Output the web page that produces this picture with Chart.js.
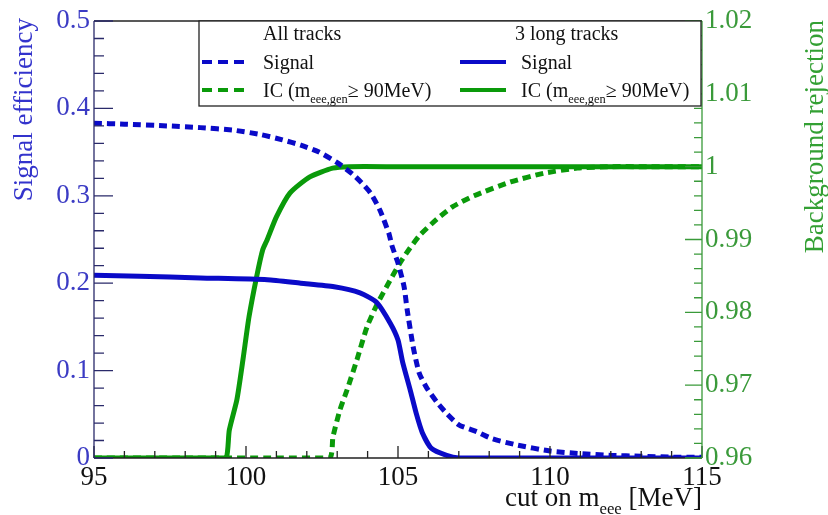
<!DOCTYPE html>
<html>
<head>
<meta charset="utf-8">
<script src="https://cdn.jsdelivr.net/npm/chart.js@4.4.1/dist/chart.umd.min.js"></script>
<style>
  html, body { margin: 0; padding: 0; background: #fff; }
  #wrap { width: 828px; height: 515px; position: relative; }
</style>
</head>
<body>
<div id="wrap"><canvas id="cutChart"></canvas></div>
<script>
// signal efficiency, all tracks (dashed blue, left axis)
const sigAllX = [95, 96, 97.4, 98.5, 99.6, 100.5, 101.2, 101.8, 102.4, 103.0, 103.5, 103.8, 104.1, 104.4, 104.7, 104.8, 105.0, 105.2, 105.3, 105.5, 105.7, 105.95, 106.3, 106.6, 107.0, 107.6, 108.1, 108.9, 110.0, 111.0, 112.0, 113.0, 114.0, 115.0];
const sigAllY = [0.383, 0.382, 0.380, 0.378, 0.375, 0.370, 0.364, 0.358, 0.350, 0.338, 0.325, 0.315, 0.303, 0.284, 0.257, 0.243, 0.223, 0.196, 0.170, 0.127, 0.097, 0.080, 0.063, 0.051, 0.038, 0.030, 0.022, 0.015, 0.008, 0.005, 0.003, 0.002, 0.001, 0.001];

// signal efficiency, 3 long tracks (solid blue, left axis)
const sigLongX = [95, 96.5, 98.5, 100.7, 101.8, 102.9, 103.75, 104.3, 104.75, 105.0, 105.15, 105.4, 105.6, 105.8, 106.1, 106.6, 107.0, 108, 110, 112, 115];
const sigLongY = [0.209, 0.208, 0.206, 0.204, 0.200, 0.196, 0.189, 0.178, 0.154, 0.135, 0.110, 0.078, 0.051, 0.029, 0.011, 0.003, 0.0, 0, 0, 0, 0];

// IC background rejection, all tracks (dashed green, right axis)
const icAllX = [95, 98, 101, 102.75, 102.86, 103.09, 103.32, 103.65, 103.98, 104.3, 104.74, 105.07, 105.39, 105.72, 106.28, 106.8, 107.5, 108.7, 109.8, 110.9, 112, 113, 115];
const icAllY = [0.96, 0.96, 0.96, 0.96, 0.9629, 0.9666, 0.9693, 0.9735, 0.9780, 0.9810, 0.9844, 0.9868, 0.9888, 0.9906, 0.9928, 0.9945, 0.9960, 0.9979, 0.9991, 0.9998, 1.0, 1.0, 1.0];

// IC background rejection, 3 long tracks (solid green, right axis)
const icLongX = [95, 97, 99, 99.35, 99.45, 99.7, 99.9, 100.1, 100.35, 100.55, 100.7, 101.0, 101.45, 102.1, 102.85, 103.4, 105, 108, 111, 115];
const icLongY = [0.96, 0.96, 0.96, 0.96, 0.9638, 0.968, 0.9735, 0.9794, 0.9849, 0.9886, 0.9900, 0.9931, 0.9964, 0.9986, 0.9998, 1.0, 1.0, 1.0, 1.0, 1.0];

const xTicks = [95, 100, 105, 110, 115];
const effTicks = [0, 0.1, 0.2, 0.3, 0.4, 0.5];
const rejTicks = [0.96, 0.97, 0.98, 0.99, 1.0, 1.01, 1.02];

const BLUE = '#0a0ac8';
const GREEN = '#0a9a0a';
const SERIF = '"Liberation Serif", "DejaVu Serif", serif';

function pts(xs, ys) {
  return xs.map((x, i) => ({ x: x, y: ys[i] }));
}

function fmt(v) {
  return String(parseFloat(v.toFixed(2)));
}

// draws text pieces, some as subscripts; returns total width
function drawRich(ctx, parts, x, y, size, measureOnly) {
  let w = 0;
  parts.forEach(p => {
    const s = p.sub ? size * 0.62 : size;
    ctx.font = s + 'px ' + SERIF;
    if (!measureOnly) ctx.fillText(p.t, x + w, y + (p.sub ? size * 0.3 : 0));
    w += ctx.measureText(p.t).width;
  });
  return w;
}

const frameAndTicks = {
  id: 'frameAndTicks',
  afterDatasetsDraw(chart) {
    const ctx = chart.ctx;
    const a = chart.chartArea;
    const xs = chart.scales.x, ys = chart.scales.y, y2 = chart.scales.y2;
    ctx.save();
    ctx.lineWidth = 1.3;

    // top frame
    ctx.strokeStyle = '#222';
    ctx.beginPath(); ctx.moveTo(a.left, a.top); ctx.lineTo(a.right, a.top); ctx.stroke();

    // bottom axis and ticks
    ctx.beginPath(); ctx.moveTo(a.left, a.bottom); ctx.lineTo(a.right, a.bottom);
    for (let v = 95; v <= 115; v += 1) {
      const px = xs.getPixelForValue(v);
      const len = (v % 5 === 0) ? 12 : 7;
      ctx.moveTo(px, a.bottom); ctx.lineTo(px, a.bottom - len);
    }
    ctx.stroke();

    // left axis and ticks
    ctx.strokeStyle = '#2a2a6a';
    ctx.beginPath(); ctx.moveTo(a.left, a.top); ctx.lineTo(a.left, a.bottom);
    for (let i = 0; i <= 25; i++) {
      const py = ys.getPixelForValue(i * 0.02);
      const len = (i % 5 === 0) ? 19 : 10;
      ctx.moveTo(a.left, py); ctx.lineTo(a.left + len, py);
    }
    ctx.stroke();

    // right axis and ticks
    ctx.strokeStyle = '#3a9a3a';
    ctx.beginPath(); ctx.moveTo(a.right, a.top); ctx.lineTo(a.right, a.bottom);
    for (let i = 0; i <= 30; i++) {
      const py = y2.getPixelForValue(0.96 + i * 0.002);
      const len = (i % 5 === 0) ? 17 : 8;
      ctx.moveTo(a.right, py); ctx.lineTo(a.right - len, py);
    }
    ctx.stroke();
    ctx.restore();
  },
  afterDraw(chart) {
    const ctx = chart.ctx;
    ctx.save();

    // axis titles
    ctx.textBaseline = 'alphabetic';
    ctx.font = '27px ' + SERIF;
    ctx.fillStyle = '#3333cc';
    ctx.save();
    ctx.translate(32, 18);
    ctx.rotate(-Math.PI / 2);
    ctx.textAlign = 'right';
    ctx.fillText('Signal efficiency', 0, 0);
    ctx.restore();

    ctx.fillStyle = '#33a033';
    ctx.save();
    ctx.translate(823, 20);
    ctx.rotate(-Math.PI / 2);
    ctx.textAlign = 'right';
    ctx.fillText('Background rejection', 0, 0);
    ctx.restore();

    ctx.textAlign = 'left';
    ctx.fillStyle = '#111';
    const xTitle = [{ t: 'cut on m' }, { t: 'eee', sub: true }, { t: ' [MeV]' }];
    const tw = drawRich(ctx, xTitle, 0, 0, 27, true);
    drawRich(ctx, xTitle, 702 - tw, 506, 27, false);

    // legend box
    const L = 199, T = 21, R = 701, B = 106;
    ctx.fillStyle = '#fff';
    ctx.fillRect(L, T, R - L, B - T);
    ctx.strokeStyle = '#222';
    ctx.lineWidth = 1.3;
    ctx.strokeRect(L, T, R - L, B - T);

    ctx.fillStyle = '#111';
    ctx.font = '20px ' + SERIF;
    ctx.fillText('All tracks', 263, 40);
    ctx.fillText('3 long tracks', 515, 40);

    const rows = [
      { x: 202, col: BLUE, dash: [10, 6], y: 62, text: [{ t: 'Signal' }] },
      { x: 202, col: GREEN, dash: [10, 6], y: 90, text: [{ t: 'IC (m' }, { t: 'eee,gen', sub: true }, { t: '\u2265 90MeV)' }] },
      { x: 460, col: BLUE, dash: [], y: 62, text: [{ t: 'Signal' }] },
      { x: 460, col: GREEN, dash: [], y: 90, text: [{ t: 'IC (m' }, { t: 'eee,gen', sub: true }, { t: '\u2265 90MeV)' }] }
    ];
    rows.forEach(r => {
      ctx.strokeStyle = r.col;
      ctx.lineWidth = 4;
      ctx.setLineDash(r.dash);
      ctx.beginPath(); ctx.moveTo(r.x, r.y); ctx.lineTo(r.x + 46, r.y); ctx.stroke();
      ctx.setLineDash([]);
      ctx.fillStyle = '#111';
      drawRich(ctx, r.text, r.x + 61, r.y + 7, 20, false);
    });
    ctx.restore();
  }
};

new Chart(document.getElementById('cutChart'), {
  type: 'line',
  data: {
    datasets: [
      { label: 'All tracks Signal', data: pts(sigAllX, sigAllY), yAxisID: 'y', borderColor: BLUE, borderWidth: 5, borderDash: [8, 5] },
      { label: '3 long tracks Signal', data: pts(sigLongX, sigLongY), yAxisID: 'y', borderColor: BLUE, borderWidth: 5 },
      { label: 'All tracks IC', data: pts(icAllX, icAllY), yAxisID: 'y2', borderColor: GREEN, borderWidth: 5, borderDash: [8, 5] },
      { label: '3 long tracks IC', data: pts(icLongX, icLongY), yAxisID: 'y2', borderColor: GREEN, borderWidth: 5 }
    ]
  },
  options: {
    responsive: true,
    maintainAspectRatio: false,
    animation: false,
    layout: { padding: { top: 21, left: 0, right: 0, bottom: 0 } },
    elements: { point: { radius: 0 }, line: { tension: 0.2, fill: false } },
    plugins: { legend: { display: false }, tooltip: { enabled: false } },
    scales: {
      x: {
        type: 'linear', min: 95, max: 115,
        grid: { display: false, drawTicks: false }, border: { display: false },
        afterBuildTicks: s => { s.ticks = xTicks.map(v => ({ value: v })); },
        afterFit: s => { s.height = 57; },
        ticks: { color: '#111', padding: 4, maxRotation: 0, font: { family: SERIF, size: 27 }, callback: v => fmt(v) }
      },
      y: {
        position: 'left', min: 0, max: 0.5,
        grid: { display: false, drawTicks: false }, border: { display: false },
        afterBuildTicks: s => { s.ticks = effTicks.map(v => ({ value: v })); },
        afterFit: s => { s.width = 94; },
        ticks: { color: '#3b3bc4', padding: 4, font: { family: SERIF, size: 27 }, callback: v => fmt(v) }
      },
      y2: {
        position: 'right', min: 0.96, max: 1.02,
        grid: { display: false, drawTicks: false }, border: { display: false },
        afterBuildTicks: s => { s.ticks = rejTicks.map(v => ({ value: v })); },
        afterFit: s => { s.width = 126; },
        ticks: { color: '#3a9a3a', padding: 3, font: { family: SERIF, size: 27 }, callback: v => fmt(v) }
      }
    }
  },
  plugins: [frameAndTicks]
});
</script>
</body>
</html>
